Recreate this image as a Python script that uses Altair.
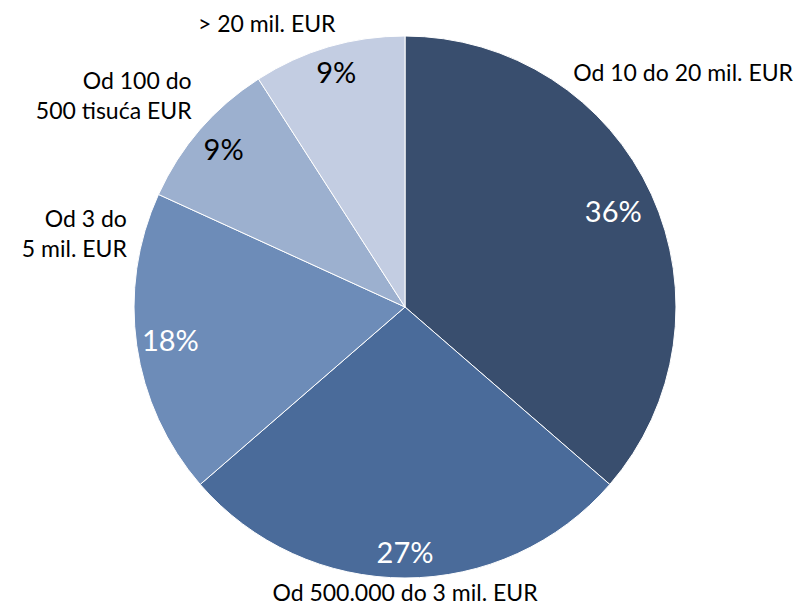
import altair as alt
import pandas as pd
import math

categories = ["Od 10 do 20 mil. EUR", "Od 500.000 do 3 mil. EUR", "Od 3 do\n5 mil. EUR",
              "Od 100 do\n500 tisuća EUR", "> 20 mil. EUR"]
values = [4, 3, 2, 1, 1]
pct_labels = ["36%", "27%", "18%", "9%", "9%"]
colors = ["#394e6e", "#4a6b9a", "#6d8cb8", "#9cb0cf", "#c3cde2"]
pct_colors = ["#ffffff", "#ffffff", "#ffffff", "#000000", "#000000"]

df = pd.DataFrame({
    "cat": categories,
    "value": values,
    "pct": pct_labels,
    "order": list(range(len(values))),
})

TOTAL = sum(values)
CX, CY = 397, 299
FONT = "Lato"
theta_scale = alt.Scale(domain=[0, TOTAL], range=[0, 2 * math.pi])

pie = alt.Chart(df).mark_arc(radius=271, stroke="#ffffff", strokeWidth=1).encode(
    theta=alt.Theta("value:Q", stack=True, scale=theta_scale),
    order=alt.Order("order:Q"),
    color=alt.Color("cat:N", scale=alt.Scale(domain=categories, range=colors), legend=None),
    x=alt.value(CX),
    y=alt.value(CY),
)

lab_base = alt.Chart(df).transform_window(
    cum="sum(value)", sort=[alt.SortField("order")], frame=[None, 0]
).transform_calculate(
    mid="datum.cum - datum.value / 2"
)

layers = [pie]

# percentage labels: (radius, dx, dy)
pct_pos = [(229, 0, 1), (246, 0, 1), (237, 0, 1), (240, 0, 1), (244, 0, 1)]
for i, (r, dx, dy) in enumerate(pct_pos):
    layers.append(
        lab_base.transform_filter(alt.datum.order == i).mark_text(
            radius=r, dx=dx, dy=dy, font=FONT, fontSize=29, color=pct_colors[i],
            align="center", baseline="middle"
        ).encode(
            theta=alt.Theta("mid:Q", stack=None, scale=theta_scale),
            text="pct:N", x=alt.value(CX), y=alt.value(CY),
        )
    )

# category labels: (radius, dx, dy, align, line height)
cat_pos = [
    (285, -91, -115, "left", 24),
    (294, 0, -7, "center", 24),
    (285, 4, -128, "right", 30),
    (285, 2, -38, "right", 30),
    (285, -58, -9, "center", 24),
]
for i, (r, dx, dy, al, lh) in enumerate(cat_pos):
    layers.append(
        lab_base.transform_filter(alt.datum.order == i).mark_text(
            radius=r, dx=dx, dy=dy, font=FONT, fontSize=23, color="#000000",
            align=al, baseline="middle", lineBreak="\n", lineHeight=lh
        ).encode(
            theta=alt.Theta("mid:Q", stack=None, scale=theta_scale),
            text="cat:N", x=alt.value(CX), y=alt.value(CY),
        )
    )

chart = alt.layer(*layers).properties(
    width=789, height=596, padding=0, autosize=alt.AutoSizeParams(type="none")
).configure_view(stroke=None)

chart.save("out.html", embed_options={"renderer": "svg", "actions": False})
